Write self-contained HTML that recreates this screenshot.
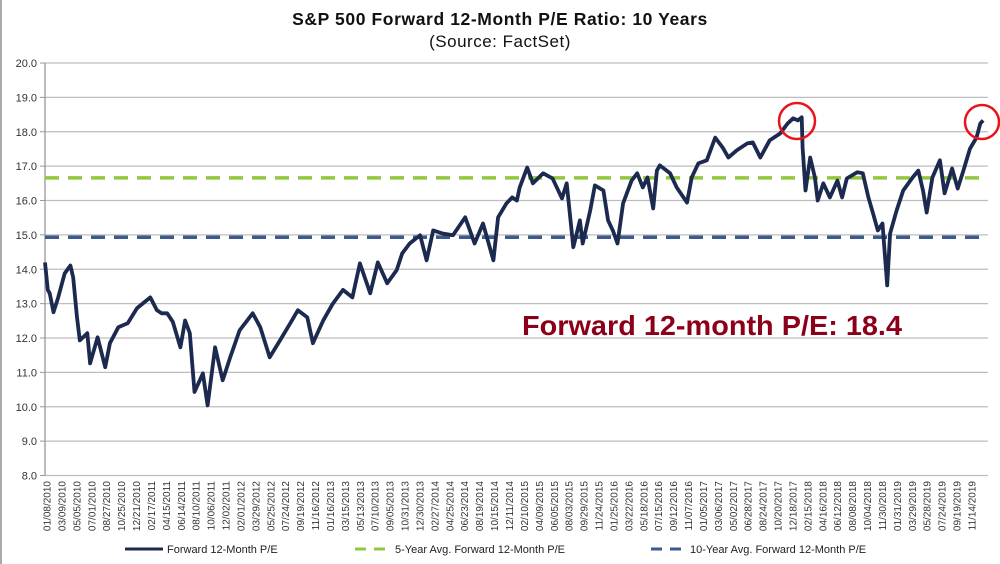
<!DOCTYPE html>
<html><head><meta charset="utf-8"><style>
html,body{margin:0;padding:0;background:#fff;}
svg{display:block;font-family:"Liberation Sans",Arial,sans-serif;}
</style></head><body>
<svg id="chart" width="1000" height="564" viewBox="0 0 1000 564" xmlns="http://www.w3.org/2000/svg">
<line x1="1" y1="0" x2="1" y2="564" stroke="#aaa" stroke-width="2"/>
<text x="500" y="25" text-anchor="middle" font-size="17.5" font-weight="bold" fill="#111" letter-spacing="0.6">S&amp;P 500 Forward 12-Month P/E Ratio: 10 Years</text>
<text x="500" y="47" text-anchor="middle" font-size="17" fill="#111" letter-spacing="0.5">(Source: FactSet)</text>
<g id="grid"></g>
<g id="yticks"></g>
<g id="xticks"></g>
<g id="avgs"></g>
<path id="series" fill="none" stroke="#1b2a4e" stroke-width="3.8" stroke-linejoin="round"/>
<circle cx="797" cy="121" r="18" fill="none" stroke="#e8141c" stroke-width="2.5"/>
<circle cx="982" cy="122" r="17" fill="none" stroke="#e8141c" stroke-width="2.5"/>
<text x="522" y="335" font-size="28" font-weight="bold" fill="#8b0018" textLength="380" lengthAdjust="spacingAndGlyphs">Forward 12-month P/E: 18.4</text>
<g font-size="11" fill="#222">
<g><line x1="125" y1="549" x2="163" y2="549" stroke="#1b2a4e" stroke-width="3"/><text x="167" y="553">Forward 12-Month P/E</text></g>
<g><line x1="355" y1="549" x2="390" y2="549" stroke="#92c83e" stroke-width="3" stroke-dasharray="11,8"/><text x="395" y="553">5-Year Avg. Forward 12-Month P/E</text></g>
<g><line x1="651" y1="549" x2="686" y2="549" stroke="#3c5a8c" stroke-width="3" stroke-dasharray="11,8"/><text x="690" y="553">10-Year Avg. Forward 12-Month P/E</text></g>
</g>
</svg>
<script>
const xLabels=["01/08/2010","03/09/2010","05/05/2010","07/01/2010","08/27/2010","10/25/2010","12/21/2010","02/17/2011","04/15/2011","06/14/2011","08/10/2011","10/06/2011","12/02/2011","02/01/2012","03/29/2012","05/25/2012","07/24/2012","09/19/2012","11/16/2012","01/16/2013","03/15/2013","05/13/2013","07/10/2013","09/05/2013","10/31/2013","12/30/2013","02/27/2014","04/25/2014","06/23/2014","08/19/2014","10/15/2014","12/11/2014","02/10/2015","04/09/2015","06/05/2015","08/03/2015","09/29/2015","11/24/2015","01/25/2016","03/22/2016","05/18/2016","07/15/2016","09/12/2016","11/07/2016","01/05/2017","03/06/2017","05/02/2017","06/28/2017","08/24/2017","10/20/2017","12/18/2017","02/15/2018","04/16/2018","06/12/2018","08/08/2018","10/04/2018","11/30/2018","01/31/2019","03/29/2019","05/28/2019","07/24/2019","09/19/2019","11/14/2019"];
const yTicks=[8,9,10,11,12,13,14,15,16,17,18,19,20];
const avg5=16.66;
const avg10=14.93;
const yearsSince2010=[0,.03,.05,.09,.14,.21,.27,.30,.34,.37,.45,.48,.56,.64,.69,.78,.88,.98,1.12,1.19,1.24,1.30,1.36,1.44,1.49,1.54,1.59,1.68,1.73,1.81,1.89,1.97,2.07,2.21,2.29,2.39,2.50,2.61,2.69,2.79,2.85,2.96,3.06,3.17,3.27,3.35,3.46,3.54,3.64,3.74,3.80,3.88,3.99,4.06,4.13,4.23,4.34,4.47,4.57,4.66,4.77,4.82,4.91,4.97,5.02,5.05,5.13,5.19,5.30,5.40,5.50,5.55,5.62,5.69,5.72,5.80,5.85,5.94,5.99,6.04,6.09,6.15,6.24,6.30,6.36,6.41,6.47,6.51,6.54,6.65,6.72,6.83,6.88,6.95,7.04,7.13,7.21,7.27,7.36,7.47,7.53,7.61,7.71,7.82,7.90,7.96,8.01,8.05,8.06,8.09,8.14,8.19,8.22,8.28,8.35,8.43,8.48,8.53,8.64,8.70,8.76,8.81,8.86,8.91,8.96,8.99,9.06,9.13,9.23,9.29,9.34,9.38,9.44,9.52,9.57,9.65,9.71,9.77,9.84,9.91,9.95,9.98];
const peValues=[14.20,13.40,13.30,12.75,13.18,13.88,14.11,13.76,12.60,11.93,12.14,11.26,12.02,11.15,11.85,12.31,12.43,12.87,13.18,12.81,12.72,12.72,12.47,11.73,12.51,12.14,10.43,10.97,10.04,11.73,10.77,11.44,12.22,12.72,12.31,11.44,11.93,12.43,12.81,12.60,11.85,12.51,12.99,13.40,13.18,14.17,13.30,14.20,13.59,13.97,14.46,14.75,14.99,14.26,15.13,15.04,14.99,15.51,14.75,15.33,14.26,15.51,15.92,16.09,16.00,16.38,16.96,16.50,16.79,16.64,16.06,16.50,14.64,15.42,14.75,15.71,16.44,16.29,15.42,15.13,14.75,15.92,16.58,16.79,16.38,16.67,15.77,16.87,17.02,16.79,16.38,15.94,16.67,17.08,17.17,17.83,17.54,17.25,17.46,17.66,17.69,17.25,17.75,17.95,18.24,18.39,18.33,18.42,17.54,16.29,17.25,16.67,16.00,16.50,16.09,16.58,16.09,16.64,16.82,16.79,16.09,15.62,15.13,15.33,13.53,15.04,15.71,16.29,16.67,16.87,16.29,15.65,16.67,17.17,16.21,16.93,16.35,16.87,17.51,17.83,18.24,18.33];

const NS="http://www.w3.org/2000/svg";
const plotL=45, plotR=988, yTop=63, yBot=475.5;
function yScale(v){return yBot-(v-8)*(yBot-yTop)/12;}
function tScale(t){return 45+t*94;}
function labelX(i){return 47+i*(925/(xLabels.length-1));}
function mk(tag,attrs,parent){const e=document.createElementNS(NS,tag);for(const k in attrs)e.setAttribute(k,attrs[k]);parent.appendChild(e);return e;}

const grid=document.getElementById('grid'), yt=document.getElementById('yticks'), xt=document.getElementById('xticks'), av=document.getElementById('avgs');
yTicks.forEach(v=>{
  const y=yScale(v);
  const gl=mk('line',{x1:plotL,x2:plotR,y1:y,y2:y,stroke:'#bdbdbd','stroke-width':1.3},grid);
  
  
  mk('line',{x1:40,x2:plotL,y1:y,y2:y,stroke:'#999','stroke-width':1},grid);
  const t=mk('text',{x:37,y:y+4,'text-anchor':'end','font-size':11,fill:'#333'},yt);
  t.textContent=v.toFixed(1);
  
  
});
mk('line',{x1:plotL,x2:plotL,y1:yTop,y2:yBot,stroke:'#999','stroke-width':1.3},grid);
xLabels.forEach((s,i)=>{
  const x=labelX(i);
  const t=mk('text',{x:0,y:0,transform:`translate(${x+3.5},481) rotate(-90)`,'text-anchor':'end','font-size':10,fill:'#333'},xt);
  t.textContent=s;
  
  
});
const l5=mk('line',{x1:plotL,x2:plotR-5,y1:yScale(avg5),y2:yScale(avg5),stroke:'#92c83e','stroke-width':3.5,'stroke-dasharray':'14,9'},av);


const l10=mk('line',{x1:plotL,x2:plotR-5,y1:yScale(avg10),y2:yScale(avg10),stroke:'#3c5a8c','stroke-width':3.5,'stroke-dasharray':'14,9'},av);


let d='';
peValues.forEach((v,i)=>{d+=(i?'L':'M')+tScale(yearsSince2010[i]).toFixed(1)+','+yScale(v).toFixed(1);});
document.getElementById('series').setAttribute('d',d);
</script>
</body></html>
